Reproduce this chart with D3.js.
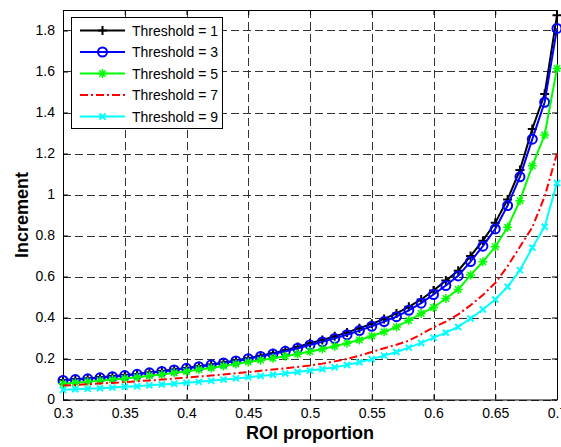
<!DOCTYPE html>
<html>
<head>
<meta charset="utf-8">
<script src="https://cdn.jsdelivr.net/npm/d3@7/dist/d3.min.js"></script>
<style>
  body { margin: 0; background: #fff; }
  svg text { font-family: "Liberation Sans", Arial, sans-serif; }
</style>
</head>
<body>
<div id="chart"></div>
<script>
// ROI proportion 0.30 .. 0.70, step 0.01
const roi = d3.range(41).map(i => +(0.3 + i * 0.01).toFixed(2));

const thr1 = [0.095, 0.099, 0.103, 0.108, 0.113, 0.119, 0.125, 0.132, 0.139, 0.146,
              0.154, 0.162, 0.171, 0.180, 0.190, 0.201, 0.213, 0.226, 0.240, 0.256,
              0.274, 0.290, 0.308, 0.327, 0.348, 0.369, 0.393, 0.420, 0.452, 0.488,
              0.532, 0.580, 0.628, 0.700, 0.775, 0.862, 0.976, 1.120, 1.320, 1.490, 1.875];
const thr3 = [0.093, 0.097, 0.101, 0.106, 0.111, 0.117, 0.123, 0.130, 0.137, 0.144,
              0.152, 0.160, 0.169, 0.178, 0.188, 0.199, 0.210, 0.222, 0.235, 0.250,
              0.266, 0.281, 0.298, 0.316, 0.336, 0.357, 0.380, 0.404, 0.435, 0.470,
              0.512, 0.556, 0.603, 0.673, 0.748, 0.832, 0.946, 1.086, 1.270, 1.450, 1.810];
const thr5 = [0.077, 0.082, 0.087, 0.092, 0.097, 0.103, 0.109, 0.116, 0.122, 0.130,
              0.137, 0.146, 0.154, 0.163, 0.173, 0.183, 0.192, 0.201, 0.211, 0.222,
              0.234, 0.246, 0.260, 0.275, 0.290, 0.310, 0.330, 0.354, 0.386, 0.419,
              0.449, 0.493, 0.537, 0.607, 0.672, 0.745, 0.840, 0.970, 1.140, 1.290, 1.615];
const thr7 = [0.068, 0.071, 0.074, 0.078, 0.081, 0.085, 0.089, 0.093, 0.097, 0.102,
              0.107, 0.112, 0.117, 0.122, 0.128, 0.134, 0.140, 0.146, 0.152, 0.159,
              0.166, 0.175, 0.186, 0.198, 0.214, 0.232, 0.250, 0.267, 0.287, 0.318,
              0.352, 0.380, 0.415, 0.460, 0.510, 0.568, 0.650, 0.745, 0.840, 0.990, 1.200];
const thr9 = [0.047, 0.050, 0.052, 0.055, 0.058, 0.062, 0.065, 0.069, 0.073, 0.077,
              0.082, 0.086, 0.091, 0.097, 0.103, 0.109, 0.115, 0.121, 0.127, 0.134,
              0.141, 0.149, 0.157, 0.168, 0.182, 0.197, 0.214, 0.232, 0.253, 0.276,
              0.302, 0.326, 0.354, 0.395, 0.439, 0.488, 0.550, 0.631, 0.740, 0.843, 1.056];

const seriesNames = ["Threshold = 1", "Threshold = 3", "Threshold = 5", "Threshold = 7", "Threshold = 9"];
const xTicks = [0.3, 0.35, 0.4, 0.45, 0.5, 0.55, 0.6, 0.65, 0.7];
const yTicks = [0, 0.2, 0.4, 0.6, 0.8, 1, 1.2, 1.4, 1.6, 1.8];

const series = [
  { name: seriesNames[0], values: thr1, color: "#000000", marker: "plus", dash: null },
  { name: seriesNames[1], values: thr3, color: "#0000ff", marker: "circle", dash: null },
  { name: seriesNames[2], values: thr5, color: "#00ff00", marker: "star", dash: null },
  { name: seriesNames[3], values: thr7, color: "#ff0000", marker: null, dash: "8,3,2,3" },
  { name: seriesNames[4], values: thr9, color: "#00ffff", marker: "cross", dash: null }
];

const width = 561, height = 447;
const margin = { left: 63, right: 4, top: 10, bottom: 47.5 };
const innerW = width - margin.left - margin.right;
const innerH = height - margin.top - margin.bottom;

const svg = d3.select("#chart").append("svg")
  .attr("width", width).attr("height", height);

const x = d3.scaleLinear().domain([0.3, 0.7]).range([margin.left, margin.left + innerW]);
const y = d3.scaleLinear().domain([0, 1.9]).range([margin.top + innerH, margin.top]);

// grid
const grid = svg.append("g").attr("stroke", "#333").attr("stroke-width", 1)
  .attr("stroke-dasharray", "8,4").attr("fill", "none");
xTicks.forEach(t => grid.append("line")
  .attr("x1", Math.round(x(t)) + 0.5).attr("x2", Math.round(x(t)) + 0.5)
  .attr("y1", margin.top).attr("y2", margin.top + innerH));
yTicks.forEach(t => grid.append("line")
  .attr("y1", Math.round(y(t)) + 0.5).attr("y2", Math.round(y(t)) + 0.5)
  .attr("x1", margin.left).attr("x2", margin.left + innerW));

// axes (ticks pointing inwards, like the original)
const xAxis = svg.append("g")
  .attr("transform", `translate(0,${margin.top + innerH})`)
  .call(d3.axisBottom(x).tickValues(xTicks).tickSizeInner(-5).tickSizeOuter(0)
    .tickPadding(9).tickFormat(d3.format("")));
const xAxisTop = svg.append("g")
  .attr("transform", `translate(0,${margin.top})`)
  .call(d3.axisTop(x).tickValues(xTicks).tickSizeInner(-5).tickSizeOuter(0).tickFormat(""));
const yAxis = svg.append("g")
  .attr("transform", `translate(${margin.left},0)`)
  .call(d3.axisLeft(y).tickValues(yTicks).tickSizeInner(-5).tickSizeOuter(0)
    .tickPadding(8).tickFormat(d3.format("")));
const yAxisRight = svg.append("g")
  .attr("transform", `translate(${margin.left + innerW},0)`)
  .call(d3.axisRight(y).tickValues(yTicks).tickSizeInner(-5).tickSizeOuter(0).tickFormat(""));

[xAxis, xAxisTop, yAxis, yAxisRight].forEach(g => {
  g.select(".domain").attr("stroke", "#000").attr("stroke-width", 1);
  g.selectAll(".tick line").attr("stroke", "#000");
  g.selectAll("text").attr("font-size", 14).attr("fill", "#000")
    .attr("font-family", "'Liberation Sans', Arial, sans-serif");
});

// lines
const line = d3.line().x((d, i) => x(roi[i])).y(d => y(d));

function markerPath(type, cx, cy) {
  if (type === "plus") {
    const s = 4.5;
    return `M${cx - s},${cy}H${cx + s}M${cx},${cy - s}V${cy + s}`;
  }
  if (type === "cross") {
    const s = 3;
    return `M${cx - s},${cy - s}L${cx + s},${cy + s}M${cx - s},${cy + s}L${cx + s},${cy - s}`;
  }
  if (type === "star") {
    const s = 4.5, d = 3.2;
    return `M${cx - s},${cy}H${cx + s}M${cx},${cy - s}V${cy + s}` +
      `M${cx - d},${cy - d}L${cx + d},${cy + d}M${cx - d},${cy + d}L${cx + d},${cy - d}`;
  }
  return "";
}

function drawMarkers(g, s, pts) {
  if (s.marker === "circle") {
    g.selectAll("circle").data(pts).enter().append("circle")
      .attr("cx", d => d[0]).attr("cy", d => d[1]).attr("r", 4.5)
      .attr("fill", "none").attr("stroke", s.color).attr("stroke-width", 2);
  } else if (s.marker) {
    g.selectAll("path.mk").data(pts).enter().append("path").attr("class", "mk")
      .attr("d", d => markerPath(s.marker, d[0], d[1]))
      .attr("fill", "none").attr("stroke", s.color)
      .attr("stroke-width", s.marker === "star" ? 1.5 : 2);
  }
}

const plot = svg.append("g");
series.forEach(s => {
  const g = plot.append("g");
  g.append("path").datum(s.values).attr("d", line)
    .attr("fill", "none").attr("stroke", s.color).attr("stroke-width", 2)
    .attr("stroke-dasharray", s.dash);
  drawMarkers(g, s, s.values.map((v, i) => [x(roi[i]), y(v)]));
});

// axis labels
svg.append("text")
  .attr("x", margin.left + innerW / 2).attr("y", 439)
  .attr("text-anchor", "middle").attr("font-size", 18).attr("font-weight", "bold")
  .text("ROI proportion");
svg.append("text")
  .attr("transform", `translate(28,215) rotate(-90)`)
  .attr("text-anchor", "middle").attr("font-size", 18).attr("font-weight", "bold")
  .text("Increment");

// legend
const lg = svg.append("g").attr("transform", "translate(71,17)");
lg.append("rect").attr("x", 0.5).attr("y", 0.5).attr("width", 151).attr("height", 111)
  .attr("fill", "#fff").attr("stroke", "#000").attr("stroke-width", 1);
series.forEach((s, i) => {
  const cy = 13.5 + i * 21.5;
  const item = lg.append("g");
  item.append("line").attr("x1", 9).attr("x2", 54).attr("y1", cy).attr("y2", cy)
    .attr("stroke", s.color).attr("stroke-width", 2).attr("stroke-dasharray", s.dash);
  drawMarkers(item, s, [[31.5, cy]]);
  item.append("text").attr("x", 61).attr("y", cy + 5).attr("font-size", 14).text(s.name);
});
</script>
</body>
</html>
